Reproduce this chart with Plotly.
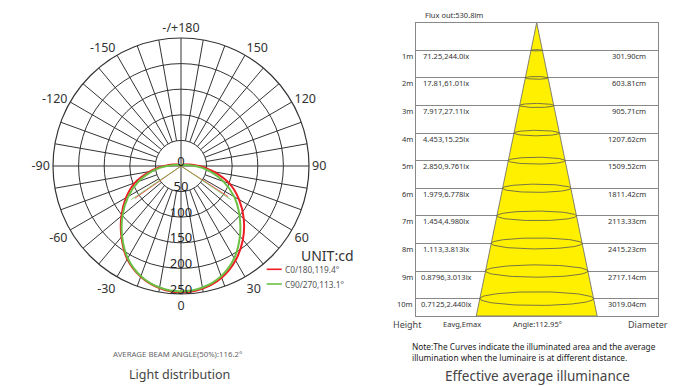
import numpy as np
import plotly.graph_objects as go

W, H = 681, 386
FONT = "Noto Sans"

# ---------------- data: light distribution (cd) ----------------
curve_theta = [-180, -160, -140, -120, -110, -100, -95, -90, -85, -80, -70, -60, -50, -40, -30, -20, -10,
               0, 10, 20, 30, 40, 50, 60, 70, 80, 85, 90, 95, 100, 110, 120, 140, 160, 180]
c0_180 = [1, 1, 2, 4, 8, 16, 24, 33, 46, 62, 96, 124, 152, 181, 210, 230, 242,
          247, 243, 232, 213, 188, 160, 131, 101, 66, 49, 35, 25, 17, 8, 4, 2, 1, 1]
c90_270 = [1, 1, 2, 3, 5, 12, 18, 28, 42, 56, 88, 119, 149, 179, 208, 229, 241,
           245, 241, 229, 208, 179, 149, 120, 88, 56, 42, 28, 18, 12, 5, 3, 2, 1, 1]
# thin chords visible in the reference (theta, cd)
c0_chord = ([57, 0, -55], [110, 0, 110])
c90_chord = ([56, 0, -56], [117, 0, 117])

radial_ticks = [0, 50, 100, 150, 200, 250]
angle_tickvals = [0, 30, 60, 90, 120, 150, 180, 210, 240, 270, 300, 330]
angle_ticktext = ["0", "30", "60", "90", "120", "150", "-/+180", "-150", "-120", "-90", "-60", "-30"]
legend_names = ["C0/180,119.4°", "C90/270,113.1°"]

# ---------------- data: effective average illuminance ----------------
heights = ["1m", "2m", "3m", "4m", "5m", "6m", "7m", "8m", "9m", "10m"]
distances = [1, 2, 3, 4, 5, 6, 7, 8, 9, 10]
eavg_emax = ["71.25,244.0lx", "17.81,61.01lx", "7.917,27.11lx", "4.453,15.25lx", "2.850,9.761lx",
             "1.979,6.778lx", "1.454,4.980lx", "1.113,3.813lx", "0.8796,3.013lx", "0.7125,2.440lx"]
diameters = ["301.90cm", "603.81cm", "905.71cm", "1207.62cm", "1509.52cm",
             "1811.42cm", "2113.33cm", "2415.23cm", "2717.14cm", "3019.04cm"]

RED = "#EE1D23"
GREEN = "#6BBF45"
GRID = "#333333"


def P(x, y):
    return x / W, 1 - y / H


fig = go.Figure()

# ---- polar grid spokes (every 10 deg from inner ring, axes from centre) ----
sp_t, sp_r = [], []
for a in range(0, 360, 10):
    r0 = 0 if a % 90 == 0 else 50
    sp_t += [a, a, None]
    sp_r += [r0, 250, None]
fig.add_trace(go.Scatterpolar(theta=sp_t, r=sp_r, mode="lines", line=dict(color=GRID, width=1),
                              hoverinfo="skip", showlegend=False, subplot="polar"))

# ---- curves ----
fig.add_trace(go.Scatterpolar(theta=c0_chord[0], r=c0_chord[1], mode="lines",
                              line=dict(color=RED, width=0.8), showlegend=False))
fig.add_trace(go.Scatterpolar(theta=c90_chord[0], r=c90_chord[1], mode="lines",
                              line=dict(color=GREEN, width=0.8), showlegend=False))
fig.add_trace(go.Scatterpolar(theta=curve_theta, r=c0_180, mode="lines", name=legend_names[0],
                              line=dict(color=RED, width=2, shape="spline"), showlegend=False))
fig.add_trace(go.Scatterpolar(theta=curve_theta, r=c90_270, mode="lines", name=legend_names[1],
                              line=dict(color=GREEN, width=2, shape="spline"), showlegend=False))

# ---- radial labels ----
lab_r = [7] + [v - 7 for v in radial_ticks[1:]]
lab_t = [180] + [0] * (len(radial_ticks) - 1)
fig.add_trace(go.Scatterpolar(theta=lab_t, r=lab_r, mode="text", text=[str(v) for v in radial_ticks],
                              textfont=dict(family=FONT, size=13, color="#222"),
                              textposition="middle center", hoverinfo="skip", showlegend=False))

x0, y1 = P(53, 38)
x1, y0 = P(309, 294)
fig.update_layout(polar=dict(
    domain=dict(x=[x0, x1], y=[y0, y1]),
    bgcolor="white",
    radialaxis=dict(range=[0, 250], tickvals=radial_ticks[1:], showticklabels=False, ticks="",
                    showline=False, gridcolor=GRID, gridwidth=1),
    angularaxis=dict(rotation=270, direction="counterclockwise", tickmode="array",
                     tickvals=angle_tickvals, ticktext=angle_ticktext, showgrid=False,
                     showline=True, linecolor=GRID, linewidth=1.2, ticks="",
                     tickfont=dict(family=FONT, size=12.5, color="#333")),
))

# ---------------- illuminance cone ----------------
SLOPE = 0.206
DEPTH = 10.63
fig.add_trace(go.Scatter(x=[0, -SLOPE * DEPTH, SLOPE * DEPTH, 0], y=[0, DEPTH, DEPTH, 0],
                         fill="toself", fillcolor="#FFF000", mode="lines",
                         line=dict(color="#666", width=0.8), xaxis="x2", yaxis="y2",
                         hoverinfo="skip", showlegend=False))
tt = np.linspace(0, 2 * np.pi, 80)
ex, ey = [], []
for d in distances:
    a = SLOPE * d
    b = 0.12 * a
    ex += list(a * np.cos(tt)) + [None]
    ey += list(d + b * np.sin(tt)) + [None]
fig.add_trace(go.Scatter(x=ex, y=ey, mode="lines", line=dict(color="#555", width=0.8),
                         xaxis="x2", yaxis="y2", hoverinfo="skip", showlegend=False))

bx0, by1 = P(415.7, 22.7)
bx1, by0 = P(657.7, 316)
fig.update_layout(
    xaxis2=dict(domain=[bx0, bx1], range=[-4.384, 4.384], anchor="y2", showgrid=False, zeroline=False,
                showticklabels=False, ticks="", showline=True, mirror=True, linecolor="#888", linewidth=1),
    yaxis2=dict(domain=[by0, by1], range=[DEPTH, 0], anchor="x2", tickvals=distances, showgrid=True,
                gridcolor="#888", gridwidth=1, zeroline=False, showticklabels=False, ticks="",
                showline=True, mirror=True, linecolor="#888", linewidth=1),
    xaxis=dict(visible=False), yaxis=dict(visible=False),
)

ann = []
tf = dict(family=FONT, size=7.5, color="#333")
for d, h, e, dm in zip(distances, heights, eavg_emax, diameters):
    ann.append(dict(x=-4.384, y=d + 0.2, xref="x2", yref="y2", text=h, showarrow=False,
                    xanchor="right", xshift=-1, font=tf))
    ann.append(dict(x=-3.27, y=d + 0.2, xref="x2", yref="y2", text=e, showarrow=False,
                    xanchor="center", font=tf))
    ann.append(dict(x=4.03, y=d + 0.2, xref="x2", yref="y2", text=dm, showarrow=False,
                    xanchor="right", font=tf))


def txt(x, y, s, size, color="#333", anchor="center", align="center"):
    px, py = P(x, y)
    ann.append(dict(x=px, y=py, xref="paper", yref="paper", text=s, showarrow=False,
                    xanchor=anchor, yanchor="middle", align=align,
                    font=dict(family=FONT, size=size, color=color)))


txt(422.7, 15, "Flux out:530.8lm", 7.5, anchor="left")
txt(391, 324, "Height", 9, color="#444", anchor="left")
txt(461.5, 324, "Eavg,Emax", 7.5)
txt(537, 324, "Angle:112.95°", 7.5)
txt(648, 324, "Diameter", 9, color="#444")
txt(410, 352, "Note:The Curves indicate the illuminated area and the average<br>"
               "illumination when the luminaire is at different distance.", 8.3, color="#222",
    anchor="left", align="left")
txt(537.5, 376, "Effective average illuminance", 13.5, color="#444")

# polar side texts
txt(299, 255, "UNIT:cd", 14, color="#333", anchor="left")
txt(283, 269, legend_names[0], 8.3, color="#555", anchor="left")
txt(283, 284, legend_names[1], 8.3, color="#555", anchor="left")
txt(178, 354, "AVERAGE BEAM ANGLE(50%):116.2°", 7.8, color="#666")
txt(179, 374, "Light distribution", 12.5, color="#444")

shapes = [
    dict(type="line", xref="paper", yref="paper", x0=P(266.7, 0)[0], x1=P(281.7, 0)[0],
         y0=P(0, 269.3)[1], y1=P(0, 269.3)[1], line=dict(color=RED, width=1.6)),
    dict(type="line", xref="paper", yref="paper", x0=P(266.7, 0)[0], x1=P(281.7, 0)[0],
         y0=P(0, 284)[1], y1=P(0, 284)[1], line=dict(color=GREEN, width=1.6)),
]

fig.update_layout(width=W, height=H, margin=dict(l=0, r=0, t=0, b=0), paper_bgcolor="white",
                  plot_bgcolor="white", annotations=ann, shapes=shapes, showlegend=False)
fig.write_html("out.html", config={"displayModeBar": False},
               post_script="document.body.style.margin='0';document.body.style.overflow='hidden';")
